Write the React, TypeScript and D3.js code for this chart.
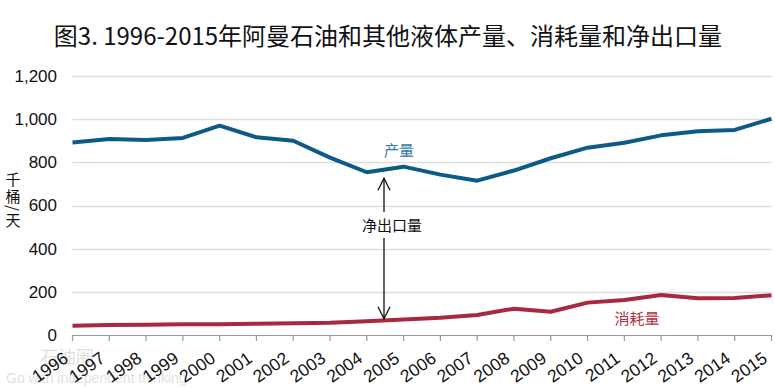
import React, { useEffect, useRef } from 'react';
import * as d3 from 'd3';

const years = ['1996', '1997', '1998', '1999', '2000', '2001', '2002', '2003', '2004', '2005',
  '2006', '2007', '2008', '2009', '2010', '2011', '2012', '2013', '2014', '2015'];
const production = [892, 908, 904, 913, 970, 916, 900, 822, 754, 780,
  743, 715, 762, 819, 868, 891, 925, 944, 950, 1002];
const consumption = [43, 46, 48, 50, 50, 52, 55, 57, 64, 72,
  80, 93, 122, 108, 150, 162, 185, 170, 171, 184];
const yTicks = [0, 200, 400, 600, 800, 1000, 1200];

const App = () => {
  const ref = useRef<SVGSVGElement>(null);

  useEffect(() => {
    const width = 775;
    const height = 388;
    const left = 72.5;
    const right = 771.5;
    const top = 76;
    const bottom = 335;

    const svg = d3.select(ref.current);
    svg.selectAll('*').remove();
    svg.attr('width', width).attr('height', height);

    const x = d3.scalePoint().domain(years).range([left, right]);
    const y = d3.scaleLinear().domain([0, 1200]).range([bottom, top]);

    // title
    svg.append('text')
      .attr('x', 388)
      .attr('y', 45)
      .attr('text-anchor', 'middle')
      .style('font-family', '"Noto Sans CJK SC", "Noto Sans", sans-serif')
      .style('font-size', '24px')
      .style('fill', '#111')
      .text('图3. 1996-2015年阿曼石油和其他液体产量、消耗量和净出口量');

    // gridlines
    svg.append('g')
      .selectAll('line')
      .data(yTicks.slice(1))
      .enter()
      .append('line')
      .attr('x1', left)
      .attr('x2', right)
      .attr('y1', d => Math.round(y(d)) + 0.5)
      .attr('y2', d => Math.round(y(d)) + 0.5)
      .style('stroke', '#dedede')
      .style('stroke-width', 1.5);

    // y axis labels
    svg.append('g')
      .selectAll('text')
      .data(yTicks)
      .enter()
      .append('text')
      .attr('x', 57)
      .attr('y', d => y(d))
      .attr('dy', '0.35em')
      .attr('text-anchor', 'end')
      .style('font-family', '"Liberation Sans", Arial, sans-serif')
      .style('font-size', '17px')
      .style('fill', '#111')
      .text(d => d3.format(',')(d));

    // y axis title, vertical writing
    svg.append('text')
      .attr('x', 13)
      .attr('y', 172)
      .style('writing-mode', 'vertical-rl')
      .style('letter-spacing', '1.5px')
      .style('font-family', '"Noto Sans CJK SC", sans-serif')
      .style('font-size', '15px')
      .style('fill', '#111')
      .text('千桶/天');

    // x axis
    const xAxis = svg.append('g').attr('transform', `translate(0,${bottom})`);
    xAxis.append('line')
      .attr('x1', left).attr('x2', right)
      .attr('y1', 0.5).attr('y2', 0.5)
      .style('stroke', '#999')
      .style('stroke-width', 1.2);
    xAxis.selectAll('line.tick')
      .data(years)
      .enter()
      .append('line')
      .attr('class', 'tick')
      .attr('x1', d => x(d)!)
      .attr('x2', d => x(d)!)
      .attr('y1', 0)
      .attr('y2', 6)
      .style('stroke', '#999')
      .style('stroke-width', 1.2);
    xAxis.selectAll('text')
      .data(years)
      .enter()
      .append('text')
      .attr('transform', d => `translate(${x(d)! - 3},${26}) rotate(-35)`)
      .attr('text-anchor', 'end')
      .style('font-family', '"Liberation Sans", Arial, sans-serif')
      .style('font-size', '17.5px')
      .style('fill', '#111')
      .text(d => d);

    // watermark
    svg.append('text')
      .attr('x', 6)
      .attr('y', 383)
      .style('font-family', '"Liberation Sans", Arial, sans-serif')
      .style('font-size', '14px')
      .style('fill', '#000')
      .style('opacity', 0.12)
      .text('Go with independent thinking');
    svg.append('text')
      .attr('x', 40)
      .attr('y', 364)
      .style('font-family', '"Noto Sans CJK SC", sans-serif')
      .style('font-size', '18px')
      .style('fill', '#000')
      .style('opacity', 0.12)
      .text('石油圈');

    const line = d3.line<number>()
      .x((_, i) => x(years[i])!)
      .y(d => y(d));

    svg.append('path')
      .datum(production)
      .attr('d', line)
      .style('fill', 'none')
      .style('stroke', '#0e5a86')
      .style('stroke-width', 4)
      .style('stroke-linejoin', 'round');

    svg.append('path')
      .datum(consumption)
      .attr('d', line)
      .style('fill', 'none')
      .style('stroke', '#a8283f')
      .style('stroke-width', 4)
      .style('stroke-linejoin', 'round');

    // net export arrow
    const ax = 384;
    const ay1 = y(754) + 6;
    const ay2 = y(66) - 2;
    const arrow = svg.append('g').style('stroke', '#111').style('stroke-width', 1.3).style('fill', 'none');
    arrow.append('line').attr('x1', ax).attr('x2', ax).attr('y1', ay1).attr('y2', 212);
    arrow.append('line').attr('x1', ax).attr('x2', ax).attr('y1', 238).attr('y2', ay2);
    arrow.append('path').attr('d', `M${ax - 6},${ay1 + 12}L${ax},${ay1}L${ax + 6},${ay1 + 12}`);
    arrow.append('path').attr('d', `M${ax - 6},${ay2 - 12}L${ax},${ay2}L${ax + 6},${ay2 - 12}`);

    svg.append('text')
      .attr('x', 392)
      .attr('y', 231)
      .attr('text-anchor', 'middle')
      .style('font-family', '"Noto Sans CJK SC", sans-serif')
      .style('font-size', '15px')
      .style('fill', '#111')
      .text('净出口量');

    svg.append('text')
      .attr('x', 399)
      .attr('y', 156)
      .attr('text-anchor', 'middle')
      .style('font-family', '"Noto Sans CJK SC", sans-serif')
      .style('font-size', '15px')
      .style('fill', '#2f7aa8')
      .text('产量');

    svg.append('text')
      .attr('x', 637)
      .attr('y', 324)
      .attr('text-anchor', 'middle')
      .style('font-family', '"Noto Sans CJK SC", sans-serif')
      .style('font-size', '15px')
      .style('fill', '#b0304a')
      .text('消耗量');
  }, []);

  return (
    <div style={{ position: 'absolute', left: 0, top: 0 }}>
      <svg ref={ref} style={{ display: 'block', background: '#fff' }}></svg>
    </div>
  );
};

export default App;
